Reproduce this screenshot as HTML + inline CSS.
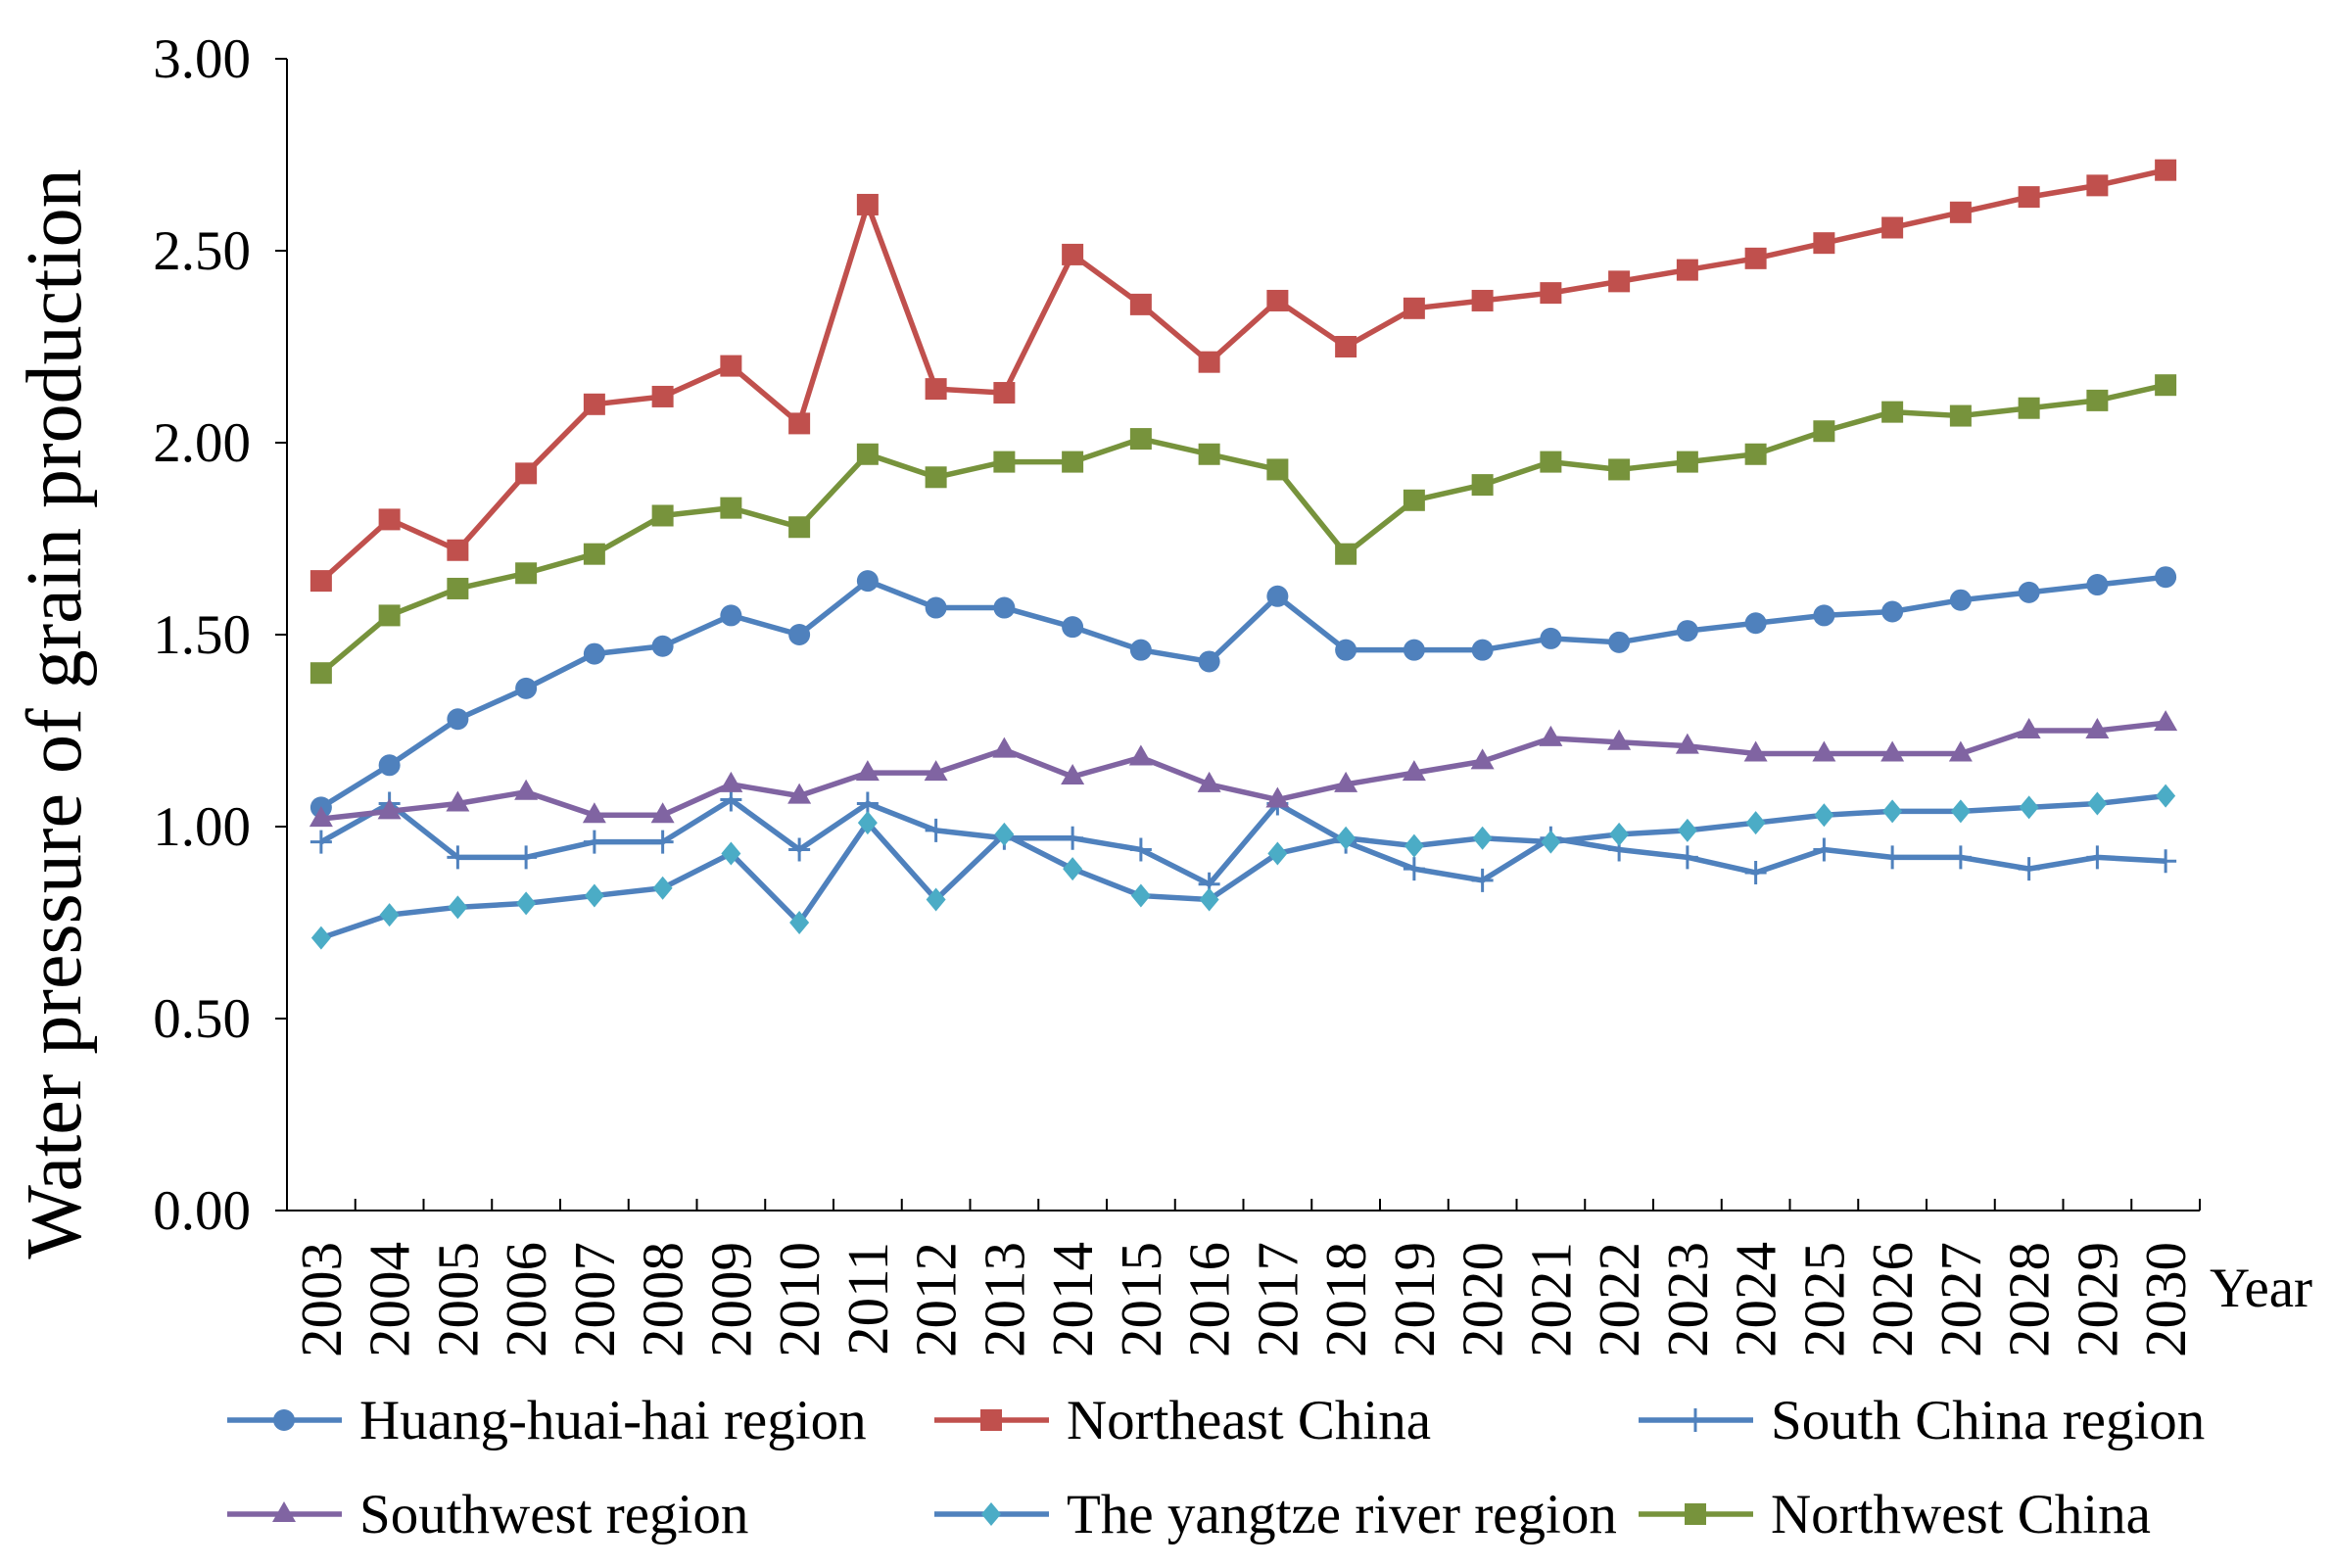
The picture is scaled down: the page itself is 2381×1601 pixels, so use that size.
<!DOCTYPE html>
<html><head><meta charset="utf-8">
<style>
html,body{margin:0;padding:0;background:#fff;}
svg{display:block;font-family:"Liberation Serif",serif;}
</style></head>
<body>
<svg id="chart" width="2381" height="1601" viewBox="0 0 2381 1601" xmlns="http://www.w3.org/2000/svg">
<g id="axes"></g>
<g id="series"></g>
<g id="legend"></g>
<text transform="translate(82,729) rotate(-90)" text-anchor="middle" font-size="80" fill="#000">Water pressure of grain production</text>
<text x="2256" y="1334" font-size="57" fill="#000">Year</text>
</svg>
<script>
const years = [2003,2004,2005,2006,2007,2008,2009,2010,2011,2012,2013,2014,2015,2016,2017,2018,2019,2020,2021,2022,2023,2024,2025,2026,2027,2028,2029,2030];
const yTicks = [0,0.5,1,1.5,2,2.5,3];
const huang = [1.05,1.16,1.28,1.36,1.45,1.47,1.55,1.50,1.64,1.57,1.57,1.52,1.46,1.43,1.60,1.46,1.46,1.46,1.49,1.48,1.51,1.53,1.55,1.56,1.59,1.61,1.63,1.65];
const northeast = [1.64,1.80,1.72,1.92,2.10,2.12,2.20,2.05,2.62,2.14,2.13,2.49,2.36,2.21,2.37,2.25,2.35,2.37,2.39,2.42,2.45,2.48,2.52,2.56,2.60,2.64,2.67,2.71];
const southChina = [0.96,1.06,0.92,0.92,0.96,0.96,1.07,0.94,1.06,0.99,0.97,0.97,0.94,0.85,1.06,0.96,0.89,0.86,0.97,0.94,0.92,0.88,0.94,0.92,0.92,0.89,0.92,0.91];
const southwest = [1.02,1.04,1.06,1.09,1.03,1.03,1.11,1.08,1.14,1.14,1.20,1.13,1.18,1.11,1.07,1.11,1.14,1.17,1.23,1.22,1.21,1.19,1.19,1.19,1.19,1.25,1.25,1.27];
const yangtze = [0.71,0.77,0.79,0.80,0.82,0.84,0.93,0.75,1.01,0.81,0.98,0.89,0.82,0.81,0.93,0.97,0.95,0.97,0.96,0.98,0.99,1.01,1.03,1.04,1.04,1.05,1.06,1.08];
const northwest = [1.40,1.55,1.62,1.66,1.71,1.81,1.83,1.78,1.97,1.91,1.95,1.95,2.01,1.97,1.93,1.71,1.85,1.89,1.95,1.93,1.95,1.97,2.03,2.08,2.07,2.09,2.11,2.15];

const NS="http://www.w3.org/2000/svg";
const X0=293, X1=2246, Y0=1236, Y3=60;
const step=(X1-X0)/years.length;
function xPos(i){return X0+step*(i+0.5);}
function yPos(v){return Y0-(v/3)*(Y0-Y3);}
function mk(tag,attrs,parent){const e=document.createElementNS(NS,tag);for(const k in attrs)e.setAttribute(k,attrs[k]);parent.appendChild(e);return e;}

const axes=document.getElementById('axes');
let e=mk('line',{x1:X0,y1:Y3,x2:X0,y2:Y0,stroke:'#000','stroke-width':2},axes);


e=mk('line',{x1:X0,y1:Y0,x2:X1,y2:Y0,stroke:'#000','stroke-width':2},axes);


yTicks.forEach(t=>{
  const y=yPos(t);
  mk('line',{x1:X0-12,y1:y,x2:X0,y2:y,stroke:'#000','stroke-width':2},axes);
  const tx=mk('text',{x:256,y:y+19,'text-anchor':'end','font-size':57,fill:'#000'},axes);
  tx.textContent=t.toFixed(2);
  
  
});
for(let i=0;i<=years.length;i++){
  const x=X0+step*i;
  mk('line',{x1:x,y1:Y0-12,x2:x,y2:Y0,stroke:'#000','stroke-width':2},axes);
}
years.forEach((yr,i)=>{
  const tx=mk('text',{transform:`translate(${xPos(i)+20},1268) rotate(-90)`,'text-anchor':'end','font-size':59,fill:'#000'},axes);
  tx.textContent=yr;
  
  
});

function marker(g,type,x,y,color){
  let m;
  if(type==='circle') m=mk('circle',{cx:x,cy:y,r:11,fill:color},g);
  else if(type==='square') m=mk('rect',{x:x-11,y:y-11,width:22,height:22,fill:color},g);
  else if(type==='plus'){m=mk('path',{d:`M${x-11} ${y}H${x+11}M${x} ${y-12}V${y+12}`,stroke:color,'stroke-width':3},g);}
  else if(type==='triangle') m=mk('path',{d:`M${x} ${y-13}L${x+12} ${y+8}L${x-12} ${y+8}Z`,fill:color},g);
  else if(type==='diamond') m=mk('path',{d:`M${x} ${y-12}L${x+10} ${y}L${x} ${y+12}L${x-10} ${y}Z`,fill:color},g);
  return m;
}
const seriesDefs=[
 {name:'Huang-huai-hai region',data:huang,line:'#4f81bd',mark:'#4f81bd',type:'circle',key:'huang-huai-hai'},
 {name:'Northeast China',data:northeast,line:'#c0504d',mark:'#c0504d',type:'square',key:'northeast-china'},
 {name:'South China region',data:southChina,line:'#4f81bd',mark:'#4f81bd',type:'plus',key:'south-china'},
 {name:'Southwest region',data:southwest,line:'#8064a2',mark:'#8064a2',type:'triangle',key:'southwest'},
 {name:'The yangtze river region',data:yangtze,line:'#4f81bd',mark:'#4bacc6',type:'diamond',key:'yangtze'},
 {name:'Northwest China',data:northwest,line:'#77933c',mark:'#77933c',type:'square',key:'northwest-china'}
];
const sg=document.getElementById('series');
seriesDefs.forEach(s=>{
  const g=mk('g',{},sg);
  
  
  const pts=s.data.map((v,i)=>xPos(i)+','+yPos(v)).join(' ');
  const pl=mk('polyline',{points:pts,fill:'none',stroke:s.line,'stroke-width':5.5,'stroke-linejoin':'round'},g);
  
  
  s.data.forEach((v,i)=>{
    const m=marker(g,s.type,xPos(i),yPos(v),s.mark);
    
    
  });
});
const lg=document.getElementById('legend');
const colX=[232,954,1673], rowY=[1450,1546];
seriesDefs.forEach((s,i)=>{
  const cx=colX[i%3], cy=rowY[Math.floor(i/3)];
  const g=mk('g',{},lg);
  
  
  mk('line',{x1:cx,y1:cy,x2:cx+117,y2:cy,stroke:s.line,'stroke-width':5.5},g);
  marker(g,s.type,cx+58,cy,s.mark);
  const t=mk('text',{x:cx+135,y:cy+19,'font-size':57,fill:'#000'},g);
  t.textContent=s.name;
});
</script>
</body></html>
